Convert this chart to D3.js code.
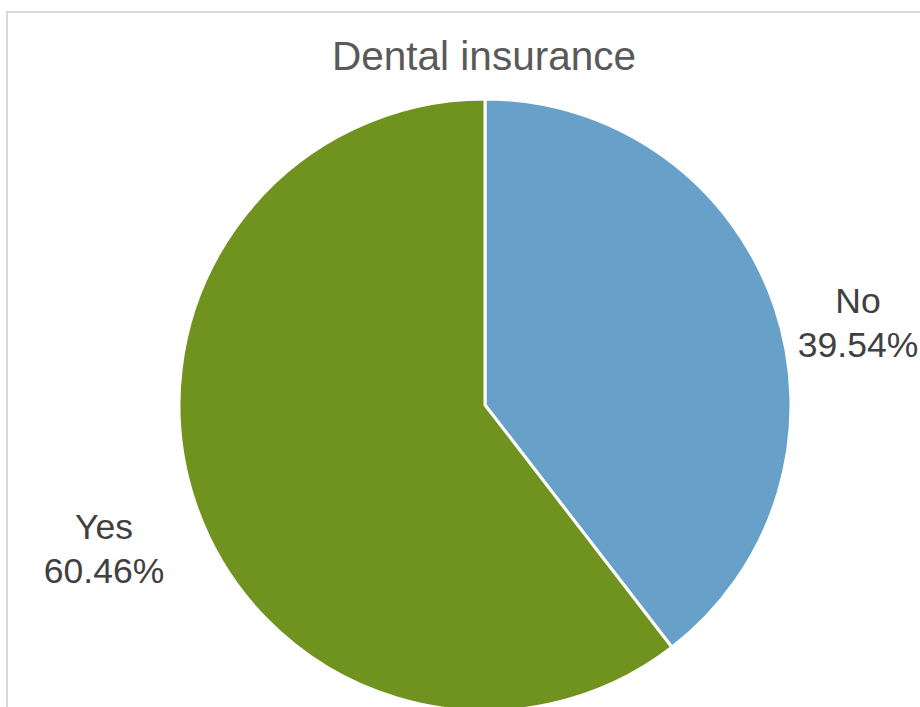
<!DOCTYPE html>
<html><head><meta charset="utf-8">
<script src="https://cdn.jsdelivr.net/npm/d3@7"></script>
<style>html,body{margin:0;padding:0;background:#fff;overflow:hidden}</style>
</head><body>
<svg id="c" width="920" height="707"></svg>
<script>
const title = "Dental insurance";
const categories = ["No", "Yes"];
const values = [39.54, 60.46];
const colors = ["#67a0c8", "#70921f"];

const svg = d3.select("#c");
svg.append("rect").attr("x", 7).attr("y", 12).attr("width", 940).attr("height", 720)
  .attr("fill", "none").attr("stroke", "#d9d9d9").attr("stroke-width", 2);

svg.append("text").attr("x", 484).attr("y", 70).attr("text-anchor", "middle")
  .attr("font-family", "Liberation Sans, Arial, sans-serif").attr("font-size", 40.5)
  .attr("fill", "#595959").text(title);

const cx = 485, cy = 405, r = 306;
const data = categories.map((c, i) => ({cat: c, val: values[i], color: colors[i]}));
const pie = d3.pie().value(d => d.val).sort(null);
const arc = d3.arc().innerRadius(0).outerRadius(r);
const g = svg.append("g").attr("transform", `translate(${cx},${cy})`);
const arcs = pie(data);
g.selectAll("path").data(arcs).enter().append("path")
  .attr("d", arc).attr("fill", d => d.data.color)
  .attr("stroke", "#fff").attr("stroke-width", 3).attr("stroke-linejoin", "round");

const labelPos = {"No": [858, 313], "Yes": [104, 539]};
arcs.forEach(a => {
  const [x, y] = labelPos[a.data.cat];
  const t = svg.append("text").attr("text-anchor", "middle")
    .attr("font-family", "Liberation Sans, Arial, sans-serif").attr("font-size", 35.5)
    .attr("fill", "#404040");
  t.append("tspan").attr("x", x).attr("y", y).text(a.data.cat);
  t.append("tspan").attr("x", x).attr("y", y + 44).text(d3.format(".2f")(a.data.val) + "%");
});
</script>
</body></html>
